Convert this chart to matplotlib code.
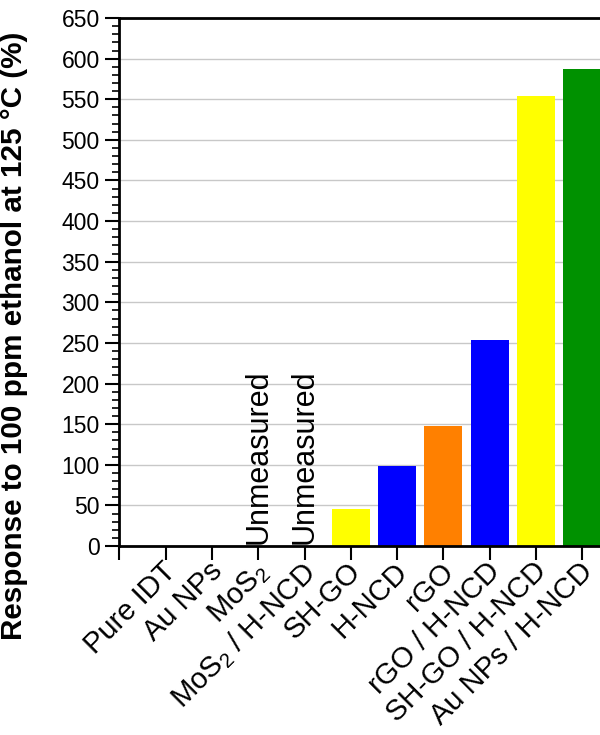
import matplotlib
matplotlib.use("Agg")
import matplotlib.pyplot as plt                         # Importing the matplotlib library.
import matplotlib.transforms as mtransforms
import numpy as np                                      # Importing the NumPy library.
from matplotlib.ticker import MultipleLocator

plt.rcParams['font.family'] = ['Liberation Sans', 'DejaVu Sans']
plt.rcParams['mathtext.fontset'] = 'custom'
plt.rcParams['mathtext.rm'] = 'Liberation Sans'
plt.rcParams['mathtext.it'] = 'Liberation Sans'

# Data.
categories = ["Pure IDT", "Au NPs", r"MoS$_2$", r"MoS$_2$ / H-NCD", "SH-GO", "H-NCD",
              "rGO", "rGO / H-NCD", "SH-GO / H-NCD", "Au NPs / H-NCD"]
responses = [0, 0, 0, 0, 46, 98, 148, 254, 554, 587]
barColors = ["#ffff00", "#ffff00", "#ffff00", "#ffff00", "#ffff00", "#0000ff",
             "#ff8000", "#0000ff", "#ffff00", "#009100"]
unmeasured = [2, 3]                                     # Indices of unmeasured samples.
yTicks = np.arange(0, 651, 50)

fig = plt.figure(figsize=(6, 7.35), dpi=100)
ax = fig.add_axes([0.1988, 0.2571, 0.849, 0.7184])

x = np.arange(1, len(categories) + 1)                   # Categories sit at 1..10, axis starts at 0.
ax.bar(x, responses, width=0.82, color=barColors, zorder=2)   # Creating the bars.

for i in unmeasured:                                    # Labelling the unmeasured samples.
    ax.text(x[i], 3, "Unmeasured", rotation=90, ha="center", va="bottom", fontsize=22)

ax.set_xlim(0, 11)
ax.set_ylim(0, 650)
ax.set_yticks(yTicks)
ax.yaxis.set_minor_locator(MultipleLocator(10))
ax.set_xticks(np.arange(0, len(categories) + 1))
ax.set_xticklabels([""] + categories, rotation=45, ha="right", rotation_mode="anchor", fontsize=21)
ax.tick_params(axis="y", which="major", direction="out", length=10, width=1.5, labelsize=16.5, pad=4)
ax.tick_params(axis="y", which="minor", direction="out", length=5, width=1.2)
ax.tick_params(axis="x", which="major", direction="out", length=10, width=1.5, pad=-2)

# Nudging the rotated labels a little to the left, as in the reference.
shift = mtransforms.ScaledTranslation(-4 / 100, 0, fig.dpi_scale_trans)
for label in ax.get_xticklabels():
    label.set_transform(label.get_transform() + shift)

ax.grid(axis="y", color="#c8c8c8", linewidth=1, zorder=0)
ax.set_axisbelow(True)
for side in ["left", "bottom", "top"]:
    ax.spines[side].set_linewidth(2)
ax.spines["right"].set_visible(False)

ax.set_ylabel("Response to 100 ppm ethanol at 125 °C (%)", fontsize=21.3, fontweight="bold")
ax.yaxis.set_label_coords((28 - 119) / 509, 0.398)

plt.savefig("out.png", dpi=100)
plt.close()
